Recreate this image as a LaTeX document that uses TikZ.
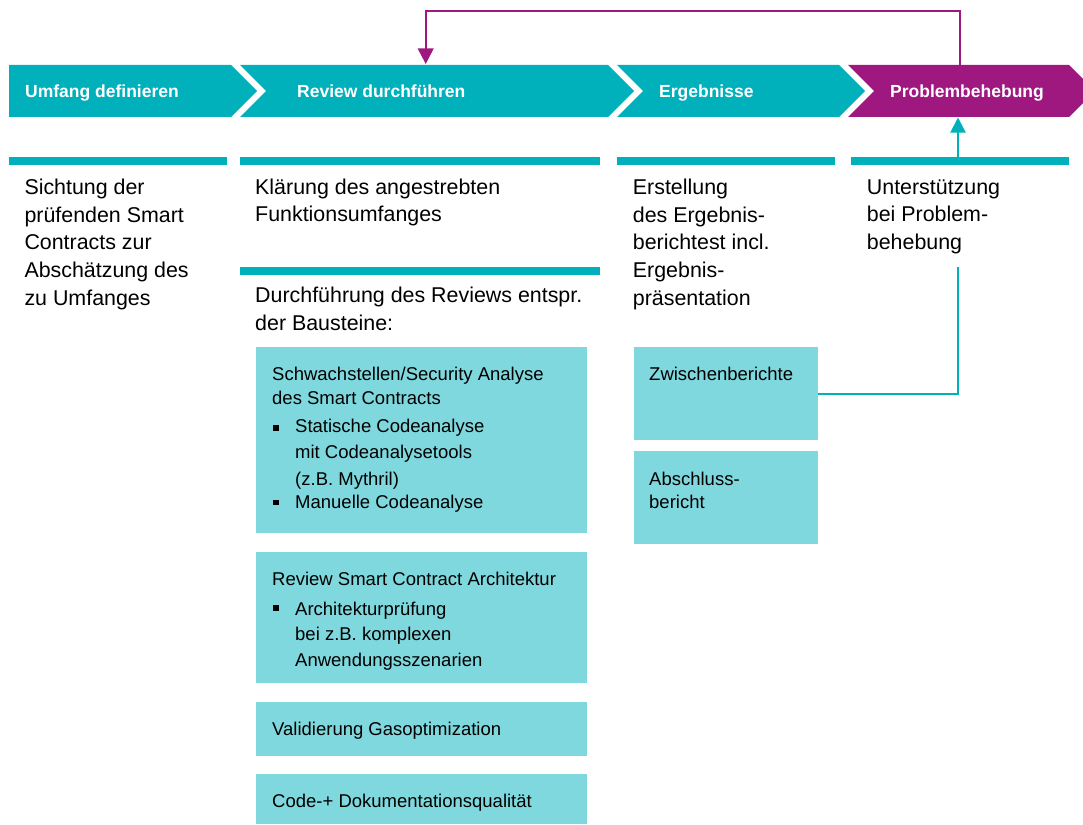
\documentclass[tikz,border=0pt]{standalone}
\usepackage{fontspec}
\setmainfont{Liberation Sans}
\usetikzlibrary{arrows.meta}
\definecolor{tealA}{RGB}{0,177,187}
\definecolor{tealL}{RGB}{127,216,221}
\definecolor{purpA}{RGB}{158,24,128}
\begin{document}
\begin{tikzpicture}[x=1pt,y=-1pt,
  hdr/.style={font=\bfseries\fontsize{17.5}{21}\selectfont, text=white, anchor=base west, inner sep=0pt},
  body/.style={font=\fontsize{21.4}{27.8}\selectfont, anchor=base west, inner sep=0pt, align=left},
  bxt/.style={font=\fontsize{18.5}{24}\selectfont, anchor=base west, inner sep=0pt, align=left},
  lbox/.style={fill=tealL, draw=none, anchor=north west, inner sep=0pt},
  bul/.style={fill=black, draw=none, minimum size=5.5pt, inner sep=0pt},
  bar/.style={fill=tealA, draw=none},
  purline/.style={draw=purpA, line width=1.8pt, -{Triangle[width=15.7pt,length=15.6pt]}},
  tline/.style={draw=tealA, line width=2pt},
]
\useasboundingbox (0,0) rectangle (1083,824);
% header chevrons
\fill[tealA] (9,65) -- (231,65) -- (257,91) -- (231,117) -- (9,117) -- cycle;
\fill[tealA] (240,65) -- (608,65) -- (634,91) -- (608,117) -- (240,117) -- (266,91) -- cycle;
\fill[tealA] (617,65) -- (839,65) -- (865,91) -- (839,117) -- (617,117) -- (643,91) -- cycle;
\fill[purpA] (848,65) -- (1069,65) -- (1095,91) -- (1069,117) -- (848,117) -- (874,91) -- cycle;
\node[hdr] (h1) at (25,98) {Umfang definieren};
\node[hdr] (h2) at (297,98) {Review durchführen};
\node[hdr] (h3) at (659,98) {Ergebnisse};
\node[hdr] (h4) at (890,98) {Problembehebung};
% bars
\fill[bar] (9,157) rectangle (227,165);
\fill[bar] (240,157) rectangle (600,165);
\fill[bar] (617,157) rectangle (835,165);
\fill[bar] (851,157) rectangle (1069,165);
\fill[bar] (240,267) rectangle (600,275);
% column texts (anchor = baseline of last line)
\node[body] (c1) at (24.3,305.5) {Sichtung der\\prüfenden Smart\\Contracts zur\\Abschätzung des\\zu Umfanges};
\node[body] (c2a) at (255,221.8) {Klärung des angestrebten\\Funktionsumfanges};
\node[body] (c2b) at (255,330.5) {Durchführung des Reviews entspr.\\der Bausteine:};
\node[body] (c3) at (632.7,305.5) {Erstellung\\des Ergebnis-\\berichtest incl.\\Ergebnis-\\präsentation};
\node[body] (c4) at (866.7,249.6) {Unterstützung\\bei Problem-\\behebung};
% light boxes
\node[lbox, minimum width=331pt, minimum height=186pt] (b1) at (256,347) {};
\node[lbox, minimum width=331pt, minimum height=131pt] (b2) at (256,552) {};
\node[lbox, minimum width=331pt, minimum height=54pt] (b3) at (256,702) {};
\node[lbox, minimum width=331pt, minimum height=50pt] (b4) at (256,774) {};
\node[lbox, minimum width=184pt, minimum height=93pt] (zw) at (634,347) {};
\node[lbox, minimum width=184pt, minimum height=93pt] (ab) at (634,451) {};
% box texts (anchor = baseline of last line)
\node[bxt] (t1) at (272,404) {Schwachstellen/Security Analyse\\des Smart Contracts};
\node[bul] (u1) at (276,428) {};
\node[bxt, font=\fontsize{18.5}{26.5}\selectfont] (t1a) at (295,485) {Statische Codeanalyse\\mit Codeanalysetools\\(z.B. Mythril)};
\node[bul] (u2) at (276,502.5) {};
\node[bxt] (t1b) at (295,508) {Manuelle Codeanalyse};
\node[bxt] (t2) at (272,585.7) {Review Smart Contract Architektur};
\node[bul] (u3) at (276,608) {};
\node[bxt, font=\fontsize{18.5}{25.5}\selectfont] (t2a) at (295,666) {Architekturprüfung\\bei z.B. komplexen\\Anwendungsszenarien};
\node[bxt] (t3) at (272,735) {Validierung Gasoptimization};
\node[bxt] (t4) at (272,807.7) {Code-+ Dokumentationsqualität};
\node[bxt] (zwt) at (649,380.7) {Zwischenberichte};
\node[bxt, font=\fontsize{18.5}{22.6}\selectfont] (abt) at (649,508.3) {Abschluss-\\bericht};
% connectors
\coordinate (p4top) at (960,65);
\coordinate (p2top) at (425.7,64);
\draw[purline] (p4top) -- (960,11) -| (p2top);
\coordinate (zwr) at (818,393.5);
\coordinate (lowend) at (958,267);
\draw[tline] (zwr) -| (lowend);
\coordinate (barup) at (958,157);
\coordinate (p4bot) at (958,117.5);
\draw[tline, -{Triangle[width=15pt,length=15pt]}] (barup) -- (p4bot);
\end{tikzpicture}
\end{document}
